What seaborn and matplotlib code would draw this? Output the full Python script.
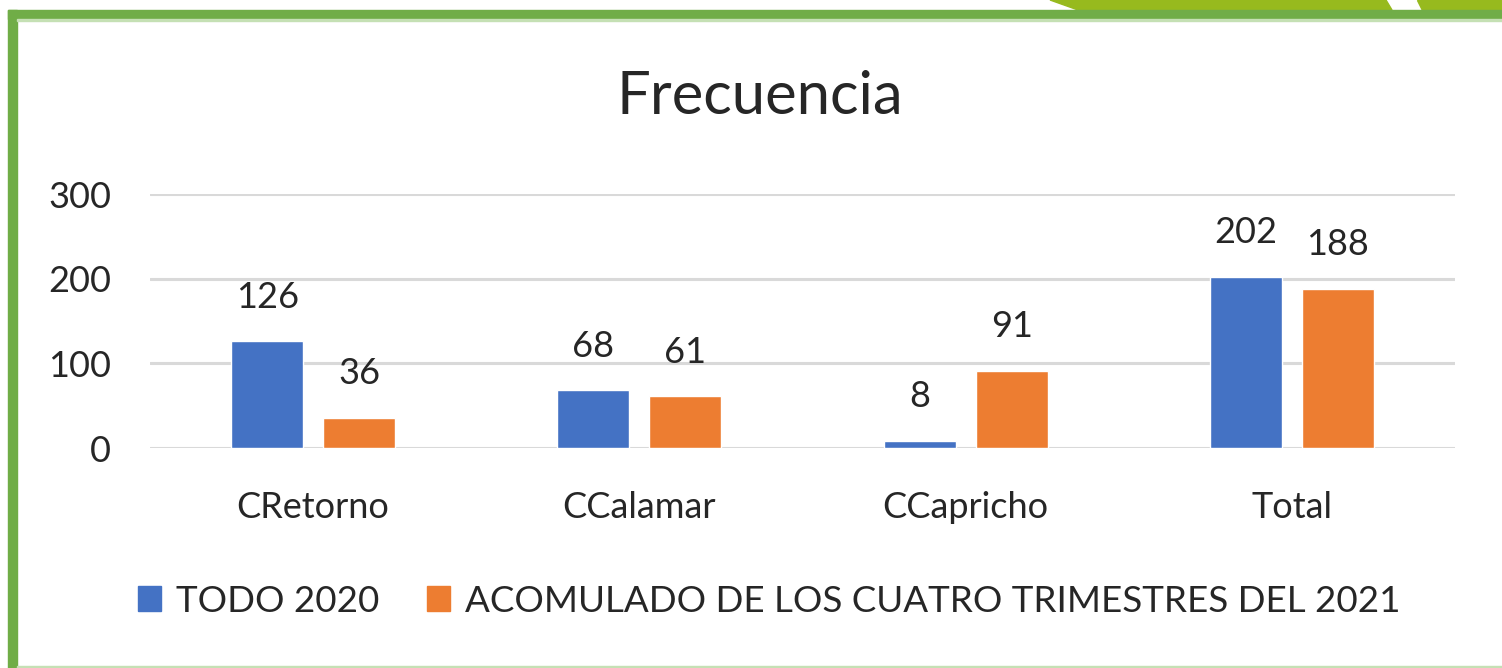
import matplotlib
matplotlib.use("Agg")
import matplotlib.pyplot as plt
import seaborn as sns
import pandas as pd
from matplotlib.patches import Rectangle, Polygon

categories = ["CRetorno", "CCalamar", "CCapricho", "Total"]
series_names = ["TODO 2020", "ACOMULADO DE LOS CUATRO TRIMESTRES DEL 2021"]
values_2020 = [126, 68, 8, 202]
values_2021 = [36, 61, 91, 188]
yticks = [0, 100, 200, 300]
title = "Frecuencia"

df = pd.DataFrame({
    "cat": categories * 2,
    "serie": [series_names[0]] * len(categories) + [series_names[1]] * len(categories),
    "val": values_2020 + values_2021,
})

sns.set_theme(style="white")
plt.rcParams["font.family"] = ["Lato", "DejaVu Sans"]

W, H = 1502, 668
fig = plt.figure(figsize=(W / 100, H / 100), dpi=100)
fig.patch.set_facecolor("white")

ax = fig.add_axes([150 / W, 1 - 448 / H, 1305 / W, (448 - 194) / H])
colors = ["#4472C4", "#ED7D31"]
sns.barplot(data=df, x="cat", y="val", hue="serie", palette=colors,
            width=0.564, gap=0.217, ax=ax, legend=False, saturation=1)

ax.set_ylim(0, 300)
ax.set_xlim(-0.5, 3.5)
ax.set_yticks(yticks)
ax.yaxis.grid(True, color="#D9D9D9", linewidth=2.2)
ax.set_axisbelow(True)
for s in ax.spines.values():
    s.set_visible(False)
ax.set_xlabel("")
ax.set_ylabel("")
fs = 26
ax.tick_params(axis="y", labelsize=fs, pad=28, length=0, labelcolor="#262626")
ax.tick_params(axis="x", labelsize=fs, pad=31, length=0, labelcolor="#262626")

for cont in ax.containers:
    ax.bar_label(cont, labels=[f"{int(v)}" for v in cont.datavalues],
                 padding=20, fontsize=fs, color="#262626")

fig.text(760 / W, 1 - 97 / H, title, ha="center", va="center",
         fontsize=43, color="#262626")

# legend
handles = [Rectangle((0, 0), 1, 1, color=c) for c in colors]
leg = fig.legend(handles, series_names, loc="center", bbox_to_anchor=(769 / W, 1 - 601 / H),
                 ncol=2, frameon=False, fontsize=26.5, handlelength=0.64, handleheight=0.64,
                 handletextpad=0.39, columnspacing=1.3, labelcolor="#262626",
                 borderpad=0, borderaxespad=0)

# decorative frame
green = "#70AD47"
fig.add_artist(Rectangle((8 / W, 0), 9 / W, 1 - 10 / H, transform=fig.transFigure, color=green, zorder=5))
fig.add_artist(Rectangle((8 / W, 1 - 19 / H), 1 - 8 / W, 9 / H, transform=fig.transFigure, color=green, zorder=5))
fig.add_artist(Rectangle((17 / W, 1 - 21 / H), 1 - 17 / W, 2 / H, transform=fig.transFigure, color="#C5E0B4", zorder=5))
fig.add_artist(Rectangle((17 / W, 0), 1 - 17 / W, 2 / H, transform=fig.transFigure, color="#C5E0B4", zorder=5))
lime = "#97BA1E"
fig.add_artist(Polygon([(1050 / W, 1), (1386 / W, 1), (1392 / W, 1 - 10 / H), (1078 / W, 1 - 10 / H)],
                       closed=True, transform=fig.transFigure, color=lime, zorder=4))
fig.add_artist(Polygon([(1417 / W, 1), (1, 1), (1, 1 - 10 / H), (1422 / W, 1 - 10 / H)],
                       closed=True, transform=fig.transFigure, color=lime, zorder=4))

fig.savefig("out.png", dpi=100, facecolor="white")
